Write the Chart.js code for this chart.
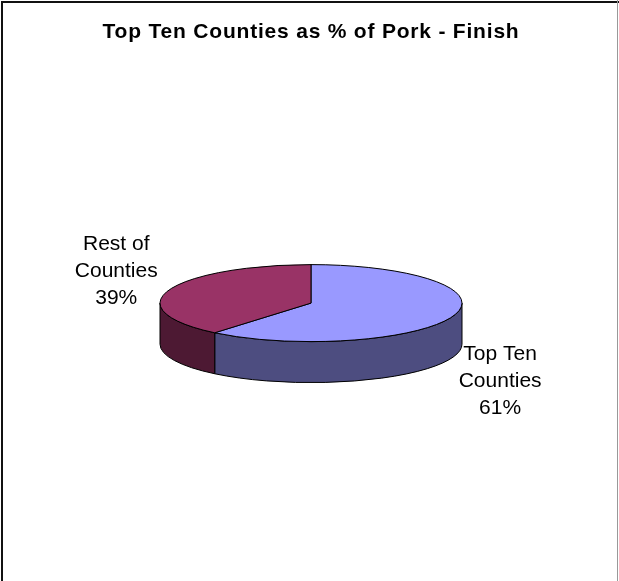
<!DOCTYPE html>
<html>
<head>
<meta charset="utf-8">
<script src="https://cdn.jsdelivr.net/npm/chart.js@4.4.0/dist/chart.umd.min.js"></script>
<style>
  html, body { margin: 0; padding: 0; background: #fff; }
  #wrap { width: 619px; height: 581px; }
</style>
</head>
<body>
<div id="wrap"><canvas id="porkChart" width="619" height="581"></canvas></div>
<script>
// data
const categories = ['Top Ten Counties', 'Rest of Counties'];
const shares = [61, 39];
const topColors = ['#9999FF', '#993366'];
const sideColors = ['#4D4D80', '#4D1933'];

const TILT = 0.255;  // how flat the pie is drawn
const DEPTH = 41;    // thickness of the slab
const FONT = 'Arial, "Liberation Sans", sans-serif';

// "Top Ten Counties" -> ["Top Ten", "Counties"]
function splitLabel(txt) {
    const k = txt.lastIndexOf(' ');
    return [txt.slice(0, k), txt.slice(k + 1)];
}

const pie3d = {
    id: 'pie3d',
    beforeDraw(chart) {
        // title is drawn a bit spaced out
        chart.ctx.letterSpacing = '0.8px';
    },
    beforeDatasetsDraw(chart) {
        const ctx = chart.ctx;
        ctx.letterSpacing = '0px';
        const arcs = chart.getDatasetMeta(0).data;
        ctx.save();
        ctx.lineWidth = 1;
        ctx.strokeStyle = '#000';
        ctx.lineJoin = 'round';

        // side walls (front half only)
        arcs.forEach((arc, i) => {
            const p = arc.getProps(['x', 'y', 'startAngle', 'endAngle', 'outerRadius'], true);
            const rx = p.outerRadius, ry = p.outerRadius * TILT;
            [0, 2 * Math.PI].forEach(off => {
                const a0 = Math.max(p.startAngle, off);
                const a1 = Math.min(p.endAngle, off + Math.PI);
                if (a1 <= a0) return;
                ctx.beginPath();
                ctx.ellipse(p.x, p.y, rx, ry, 0, a0, a1);
                ctx.lineTo(p.x + rx * Math.cos(a1), p.y + ry * Math.sin(a1) + DEPTH);
                ctx.ellipse(p.x, p.y + DEPTH, rx, ry, 0, a1, a0, true);
                ctx.closePath();
                ctx.fillStyle = sideColors[i];
                ctx.fill();
                ctx.stroke();
            });
        });

        // top faces
        arcs.forEach(arc => {
            const p = arc.getProps(['x', 'y', 'startAngle', 'endAngle', 'outerRadius'], true);
            ctx.beginPath();
            ctx.moveTo(p.x, p.y);
            ctx.ellipse(p.x, p.y, p.outerRadius, p.outerRadius * TILT, 0, p.startAngle, p.endAngle);
            ctx.closePath();
            ctx.fillStyle = arc.options.backgroundColor;
            ctx.fill();
            ctx.stroke();
        });

        // labels
        const total = shares.reduce((a, b) => a + b, 0);
        ctx.fillStyle = '#000';
        ctx.font = '21px ' + FONT;
        ctx.textAlign = 'center';
        ctx.textBaseline = 'middle';
        arcs.forEach((arc, i) => {
            const p = arc.getProps(['x', 'y', 'startAngle', 'endAngle', 'outerRadius'], true);
            const mid = (p.startAngle + p.endAngle) / 2;
            const c = Math.cos(mid), s = Math.sin(mid);
            const lx = p.x + c * (p.outerRadius + (c < 0 ? 56 : 50));
            const ly = p.y + s * (p.outerRadius * TILT + 55) + (s > 0 ? DEPTH + 5 : 0);
            const lines = splitLabel(chart.data.labels[i]);
            lines.push(Math.round(shares[i] / total * 100) + '%');
            lines.forEach((t, k) => ctx.fillText(t, lx, ly + (k - 1) * 27));
        });
        ctx.restore();
        return false;
    },
    afterDraw(chart) {
        const ctx = chart.ctx;
        ctx.save();
        ctx.fillStyle = '#111';
        ctx.fillRect(1, 1, 2, 581);
        ctx.fillRect(1, 1, 618, 2);
        ctx.fillStyle = '#999';
        ctx.fillRect(617, 0, 1, 581);
        ctx.restore();
    }
};

const ctx1 = document.getElementById('porkChart').getContext('2d');
const porkChart = new Chart(ctx1, {
    type: 'pie',
    data: {
        labels: categories,
        datasets: [{
            data: shares,
            backgroundColor: topColors,
            borderWidth: 0
        }]
    },
    options: {
        responsive: false,
        animation: false,
        radius: 151,
        layout: {
            padding: { left: 3, right: 0, top: 0, bottom: 127 }
        },
        plugins: {
            legend: { display: false },
            tooltip: { enabled: false },
            title: {
                display: true,
                text: 'Top Ten Counties as % of Pork - Finish',
                color: '#000',
                font: { family: FONT, size: 21, weight: 'bold' },
                padding: { top: 20, bottom: 107 }
            }
        }
    },
    plugins: [pie3d]
});
</script>
</body>
</html>
